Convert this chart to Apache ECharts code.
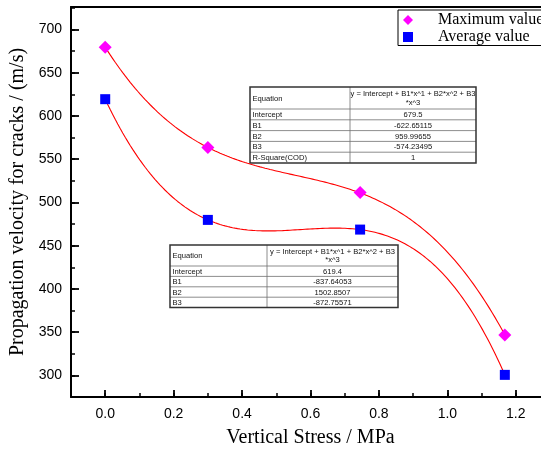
<!DOCTYPE html>
<html>
<head>
<meta charset="utf-8">
<script src="https://cdn.jsdelivr.net/npm/echarts@6/dist/echarts.min.js"></script>
<style>
  html, body { margin: 0; padding: 0; background: #fff; }
  #chart { width: 541px; height: 457px; }
</style>
</head>
<body>
<div id="chart"></div>
<script>
// Measured crack propagation velocity against vertical stress
const stress = [0, 0.3, 0.745, 1.168];
const maxVelocity = [679.5, 563.6, 511.5, 346.8];
const avgVelocity = [619.4, 479.8, 468.6, 300.6];

// Cubic fit parameters (Intercept, B1, B2, B3)
const maxCoef = [679.5, -622.65115, 959.99655, -574.23495];
const avgCoef = [619.4, -837.64053, 1502.8507, -872.75571];

// Fit report tables
const equationLines = ['y = Intercept + B1*x^1 + B2*x^2 + B3', '*x^3'];
const maxTableNames = ['Intercept', 'B1', 'B2', 'B3', 'R-Square(COD)'];
const maxTableValues = ['679.5', '-622.65115', '959.99655', '-574.23495', '1'];
const avgTableNames = ['Intercept', 'B1', 'B2', 'B3'];
const avgTableValues = ['619.4', '-837.64053', '1502.8507', '-872.75571'];

const seriesNames = ['Maximum value', 'Average value'];
const xTitle = 'Vertical Stress / MPa';
const yTitle = 'Propagation velocity for cracks / (m/s)';

function cubicCurve(coef, x0, x1, steps) {
  const pts = [];
  for (let i = 0; i <= steps; i++) {
    const x = x0 + (x1 - x0) * i / steps;
    pts.push([x, coef[0] + coef[1] * x + coef[2] * x * x + coef[3] * x * x * x]);
  }
  return pts;
}

const lastX = stress[stress.length - 1];
const maxCurve = cubicCurve(maxCoef, stress[0], lastX, 160);
const avgCurve = cubicCurve(avgCoef, stress[0], lastX, 160);

const TABLE_FONT = '7.6px "Liberation Sans", Arial, sans-serif';

function buildTable(left, top, w1, w2, eqH, rowH, names, values) {
  const children = [];
  const total = eqH + rowH * names.length;
  const width = w1 + w2;
  children.push({ type: 'rect', shape: { x: 0, y: 0, width: width, height: total },
    style: { fill: '#fff', stroke: null } });
  // inner grid lines
  children.push({ type: 'line', shape: { x1: w1, y1: 0, x2: w1, y2: total },
    style: { stroke: '#707070', lineWidth: 0.8 } });
  for (let i = 0; i < names.length; i++) {
    const y = eqH + rowH * i;
    children.push({ type: 'line', shape: { x1: 0, y1: y, x2: width, y2: y },
      style: { stroke: '#707070', lineWidth: 0.8 } });
  }
  // header row
  children.push({ type: 'text', style: { text: 'Equation', x: 2.5, y: eqH / 2 + 0.5,
    font: TABLE_FONT, fill: '#111', textAlign: 'left', textVerticalAlign: 'middle' } });
  children.push({ type: 'text', style: { text: equationLines[0], x: w1 + w2 / 2, y: eqH / 2 - 4,
    font: TABLE_FONT, fill: '#111', textAlign: 'center', textVerticalAlign: 'middle' } });
  children.push({ type: 'text', style: { text: equationLines[1], x: w1 + w2 / 2, y: eqH / 2 + 4.5,
    font: TABLE_FONT, fill: '#111', textAlign: 'center', textVerticalAlign: 'middle' } });
  for (let i = 0; i < names.length; i++) {
    const cy = eqH + rowH * i + rowH / 2 + 0.5;
    children.push({ type: 'text', style: { text: names[i], x: 2.5, y: cy,
      font: TABLE_FONT, fill: '#111', textAlign: 'left', textVerticalAlign: 'middle' } });
    children.push({ type: 'text', style: { text: values[i], x: w1 + w2 / 2, y: cy,
      font: TABLE_FONT, fill: '#111', textAlign: 'center', textVerticalAlign: 'middle' } });
  }
  // outer frame
  children.push({ type: 'rect', shape: { x: 0, y: 0, width: width, height: total },
    style: { fill: null, stroke: '#333', lineWidth: 1.5 } });
  return { type: 'group', x: left, y: top, z: 50, children: children };
}

const chart = echarts.init(document.getElementById('chart'), null, { renderer: 'canvas' });

const axisBlack = { color: '#000', width: 2 };

chart.setOption({
  backgroundColor: '#fff',
  animation: false,
  grid: { left: 71, right: -9, top: 7, bottom: 60, containLabel: false, outerBoundsMode: 'none' },
  legend: {
    data: [
      { name: seriesNames[0], icon: 'diamond' },
      { name: seriesNames[1], icon: 'rect' }
    ],
    orient: 'vertical',
    left: 398,
    top: 10,
    padding: [1.5, 80, 0, 5],
    itemWidth: 10,
    itemHeight: 10,
    itemGap: 0,
    borderColor: '#000',
    borderWidth: 1,
    backgroundColor: '#fff',
    textStyle: { fontFamily: '"Liberation Serif", "Times New Roman", serif', fontSize: 16,
      color: '#000', lineHeight: 17, padding: [0, 0, 0, 20] }
  },
  xAxis: [
    {
      type: 'value', min: -0.1, max: 1.3, splitNumber: 7, position: 'bottom',
      axisLine: { onZero: false, lineStyle: axisBlack },
      axisTick: { inside: true, length: 7, lineStyle: { color: '#000', width: 1.8 } },
      axisLabel: { showMinLabel: false, showMaxLabel: false, margin: 10,
        fontFamily: '"Liberation Sans", Arial, sans-serif', fontSize: 14, color: '#000',
        formatter: v => v.toFixed(1) },
      splitLine: { show: false },
      name: xTitle, nameLocation: 'middle', nameGap: 31,
      nameTextStyle: { fontFamily: '"Liberation Serif", "Times New Roman", serif', fontSize: 20, color: '#000' }
    },
    {
      type: 'value', min: -0.1, max: 1.3, interval: 0.1, position: 'bottom',
      axisLine: { show: false, onZero: false },
      axisTick: { inside: true, length: 4, lineStyle: { color: '#000', width: 1.5 } },
      axisLabel: { show: false }, splitLine: { show: false }
    },
    {
      type: 'value', min: -0.1, max: 1.3, position: 'top',
      axisLine: { onZero: false, lineStyle: axisBlack },
      axisTick: { show: false }, axisLabel: { show: false }, splitLine: { show: false }
    }
  ],
  yAxis: [
    {
      type: 'value', min: 275, max: 726, splitNumber: 9, position: 'left',
      axisLine: { onZero: false, lineStyle: axisBlack },
      axisTick: { inside: true, length: 8, lineStyle: { color: '#000', width: 1.8 } },
      axisLabel: { showMinLabel: false, showMaxLabel: false, margin: 9,
        fontFamily: '"Liberation Sans", Arial, sans-serif', fontSize: 14, color: '#000' },
      splitLine: { show: false },
      name: yTitle, nameLocation: 'middle', nameGap: 41,
      nameTextStyle: { fontFamily: '"Liberation Serif", "Times New Roman", serif', fontSize: 20, color: '#000' }
    },
    {
      type: 'value', min: 275, max: 726, interval: 25, position: 'left',
      axisLine: { show: false, onZero: false },
      axisTick: { inside: true, length: 4, lineStyle: { color: '#000', width: 1.5 } },
      axisLabel: { show: false }, splitLine: { show: false }
    }
  ],
  series: [
    {
      name: 'maxFit', type: 'line', data: maxCurve, showSymbol: false, symbol: 'none',
      lineStyle: { color: '#ff0000', width: 1.1 }, z: 2, silent: true
    },
    {
      name: 'avgFit', type: 'line', data: avgCurve, showSymbol: false, symbol: 'none',
      lineStyle: { color: '#ff0000', width: 1.1 }, z: 2, silent: true
    },
    {
      name: seriesNames[0], type: 'scatter', symbol: 'diamond', symbolSize: 13,
      itemStyle: { color: '#ff00ff', opacity: 1 }, z: 5,
      data: stress.map((x, i) => [x, maxVelocity[i]])
    },
    {
      name: seriesNames[1], type: 'scatter', symbol: 'rect', symbolSize: 10,
      itemStyle: { color: '#0000ff', opacity: 1 }, z: 5,
      data: stress.map((x, i) => [x, avgVelocity[i]])
    }
  ],
  graphic: [
    buildTable(250, 87, 100, 126, 22, 10.8, maxTableNames, maxTableValues),
    buildTable(170, 245, 97, 131, 21, 10.4, avgTableNames, avgTableValues)
  ]
});
</script>
</body>
</html>
